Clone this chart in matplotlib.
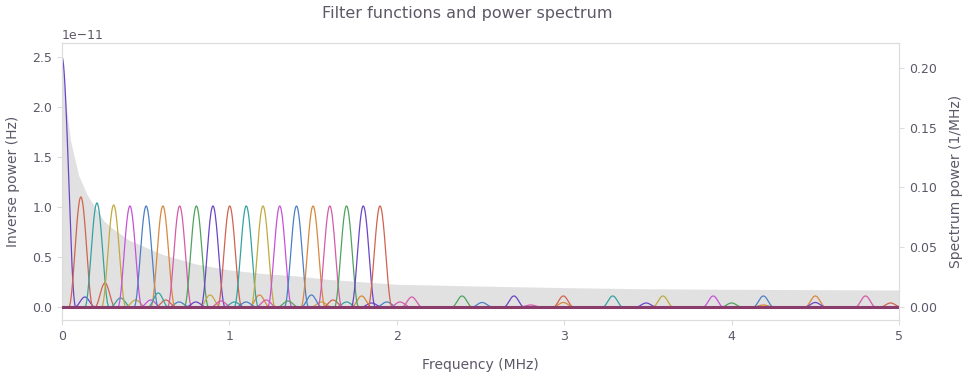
#!/usr/bin/env python3
import numpy as np
import matplotlib
matplotlib.use("Agg")
import matplotlib.pyplot as plt

# ============================================================
# Data
# ============================================================
# noise spectrum, 1/MHz
SPEC_FREQ = [0.0, 0.02, 0.05, 0.1, 0.15, 0.2, 0.25, 0.3, 0.4, 0.5, 0.6, 0.7, 0.8,
             1.0, 1.2, 1.4, 1.6, 1.8, 2.0, 2.5, 3.0, 3.5, 4.0, 4.5, 5.0]
SPEC_POWER = [0.210, 0.175, 0.140, 0.110, 0.094, 0.083, 0.072, 0.066, 0.056, 0.050,
              0.044, 0.040, 0.036, 0.031, 0.028, 0.026, 0.023, 0.021, 0.019, 0.0175,
              0.0162, 0.0152, 0.0148, 0.0145, 0.0142]

# main lobe of each filter function: centre (MHz), height (1e-11 Hz), half width (MHz)
MAIN_CENTER = [0.0, 0.113, 0.209, 0.309, 0.406, 0.503, 0.603, 0.703, 0.803, 0.902,
               1.002, 1.101, 1.201, 1.301, 1.401, 1.5, 1.6, 1.7, 1.8, 1.9]
MAIN_HEIGHT = [2.5, 1.1, 1.04, 1.02, 1.01, 1.01, 1.01, 1.01, 1.01, 1.01,
               1.01, 1.01, 1.01, 1.01, 1.01, 1.01, 1.01, 1.01, 1.01, 1.01]
MAIN_HALFWIDTH = [0.082] + [0.072] * 19

# secondary humps: which filter function, centre (MHz), height (1e-11 Hz)
SIDE_OWNER = [0, 1, 2, 3, 4, 11, 5, 12, 2, 6, 7, 5, 10, 15, 14,
              16, 7, 8, 14, 9, 7, 10, 15, 11, 18, 12, 13, 17, 14, 6,
              15, 18, 16, 19, 10, 18, 16, 14, 17, 3, 2, 9]
SIDE_CENTER = [0.137, 0.257, 0.35, 0.44, 0.53, 0.575, 0.70, 0.885, 1.03, 1.18, 1.22, 1.49, 1.62, 1.79, 1.94,
               2.02, 2.09, 2.39, 2.51, 2.70, 2.80, 2.995, 2.995, 3.29, 3.49, 3.59, 3.89, 4.00, 4.19, 4.19,
               4.50, 4.50, 4.80, 4.95, 0.62, 0.80, 0.95, 1.10, 1.35, 1.55, 1.70, 1.85]
SIDE_HEIGHT = [0.10, 0.24, 0.09, 0.07, 0.07, 0.14, 0.05, 0.12, 0.05, 0.12, 0.07, 0.12, 0.07, 0.11, 0.05,
               0.05, 0.10, 0.11, 0.045, 0.11, 0.02, 0.11, 0.045, 0.11, 0.04, 0.11, 0.11, 0.04, 0.11, 0.02,
               0.11, 0.045, 0.11, 0.04, 0.07, 0.05, 0.06, 0.05, 0.06, 0.05, 0.05, 0.04]
SIDE_HALFWIDTH = 0.06

COLORS = ["#6b44c7", "#d0634f", "#33a3a0", "#c0aa40", "#c653d6",
          "#4b80c6", "#d8883f", "#d45ba8", "#4fa35c"]

TEXT_COLOR = "#5d5868"
SPINE_COLOR = "#dddddd"


def lobe(f, center, height, hw):
    # rounded hump, zero outside +-hw
    x = (f - center) / hw
    out = height * np.cos(0.5 * np.pi * x) ** 2
    out[np.abs(x) >= 1] = 0.0
    return out


def main():
    plt.rcParams["font.family"] = "DejaVu Sans"
    fig = plt.figure(figsize=(9.68, 3.76), dpi=100)
    ax = fig.add_axes([0.064, 0.149, 0.8647, 0.7366])
    ax2 = ax.twinx()

    # spectrum in the background
    ax2.fill_between(SPEC_FREQ, 0, SPEC_POWER, color="#d9d7d9", alpha=0.75, lw=0)
    ax2.set_ylim(-0.01088, 0.2209)

    f = np.linspace(0, 5, 2501)
    for k in range(len(MAIN_CENTER)):
        y = lobe(f, MAIN_CENTER[k], MAIN_HEIGHT[k], MAIN_HALFWIDTH[k])
        for owner, c, h in zip(SIDE_OWNER, SIDE_CENTER, SIDE_HEIGHT):
            if owner == k:
                y = y + lobe(f, c, h, SIDE_HALFWIDTH)
        ax.plot(f, y * 1e-11, color=COLORS[k % len(COLORS)], lw=0.9)
    # the many curves resting on zero pile up into a dark base line
    ax.axhline(0, color="#8a3d6a", lw=2.2, zorder=3)

    ax.set_zorder(ax2.get_zorder() + 1)
    ax.patch.set_visible(False)

    ax.set_xlim(0, 5)
    ax.set_ylim(-0.13e-11, 2.64e-11)
    ax.set_yticks(np.arange(0, 2.51, 0.5) * 1e-11)
    ax2.set_yticks([0.0, 0.05, 0.10, 0.15, 0.20])

    for a in (ax, ax2):
        for s in a.spines.values():
            s.set_color(SPINE_COLOR)
        a.tick_params(colors=SPINE_COLOR, labelcolor=TEXT_COLOR, labelsize=9, length=3.5)
    ax.yaxis.get_offset_text().set_color(TEXT_COLOR)
    ax.yaxis.get_offset_text().set_fontsize(9)

    ax.set_xlabel("Frequency (MHz)", color=TEXT_COLOR, fontsize=10, labelpad=11)
    ax.set_ylabel("Inverse power (Hz)", color=TEXT_COLOR, fontsize=10, labelpad=9)
    ax2.set_ylabel("Spectrum power (1/MHz)", color=TEXT_COLOR, fontsize=10, labelpad=9)
    fig.suptitle("Filter functions and power spectrum", color=TEXT_COLOR, fontsize=11.5,
                 x=0.4824, y=0.985)

    fig.savefig("out.png", dpi=100)
    plt.close(fig)


if __name__ == "__main__":
    main()
